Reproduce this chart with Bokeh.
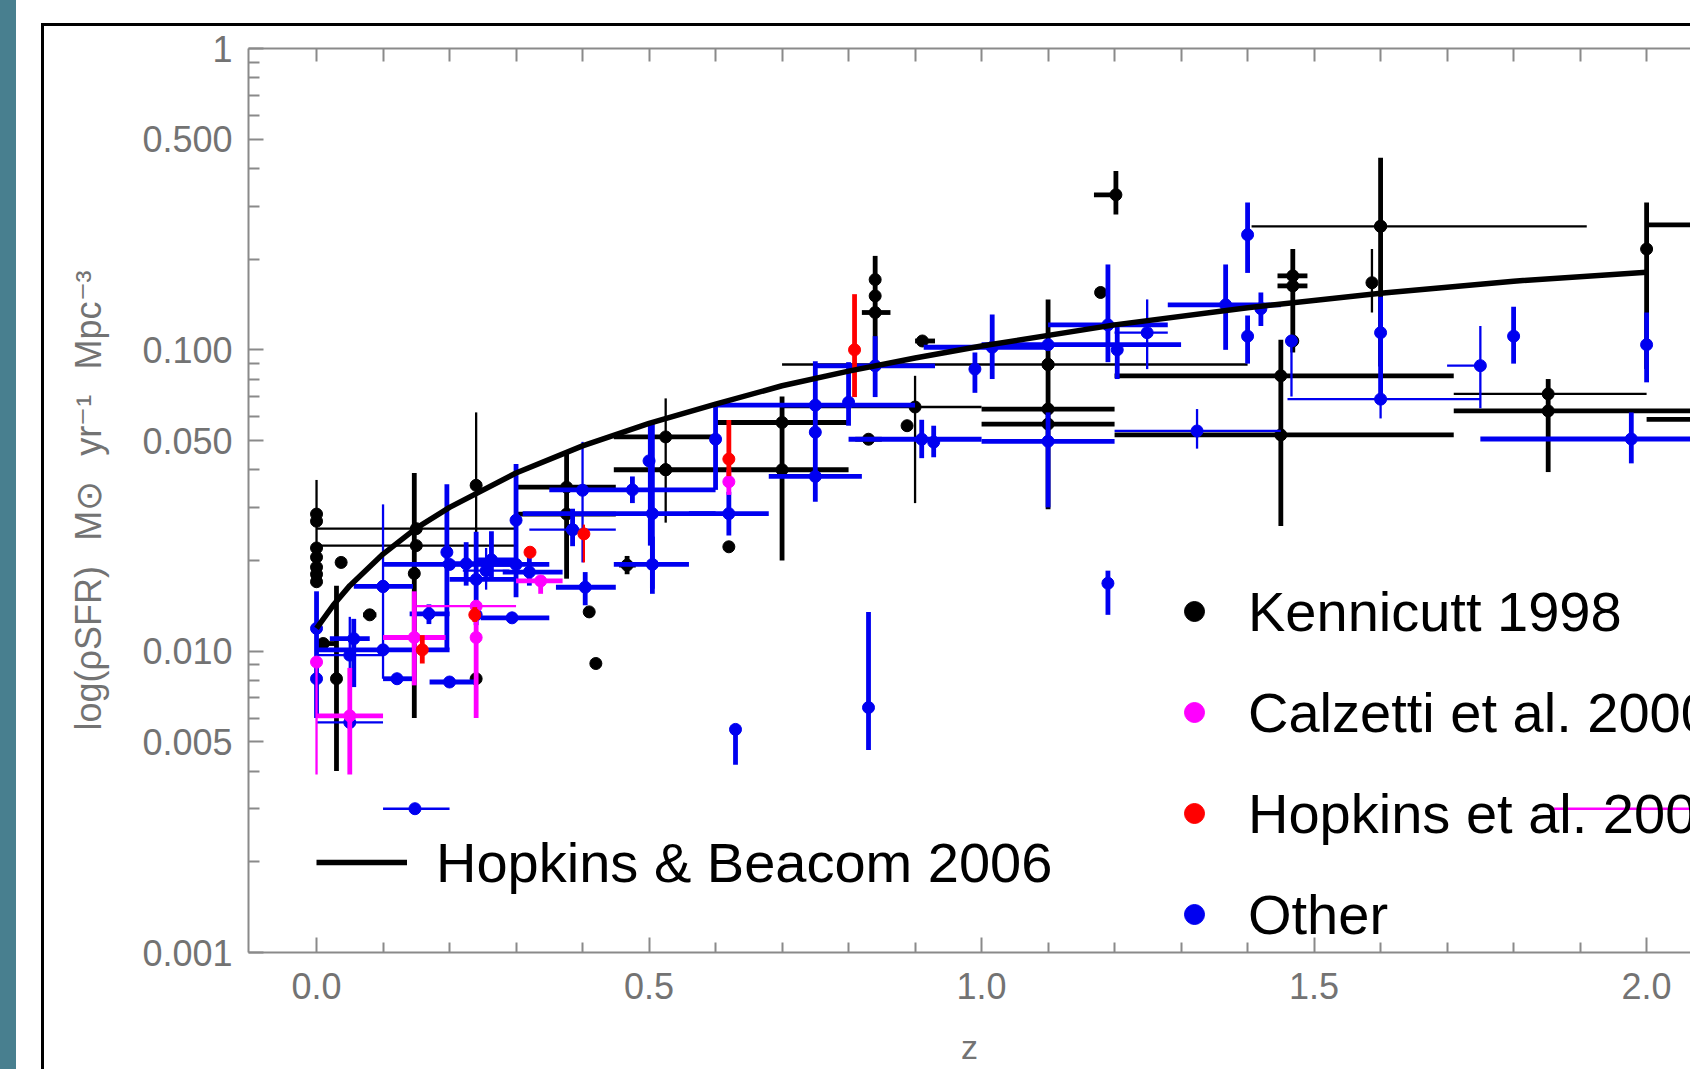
from bokeh.plotting import figure
from bokeh.models import (FixedTicker, LinearAxis, NumeralTickFormatter, Legend,
                          LegendItem, ColumnDataSource, Div, Range1d)
from bokeh.layouts import row, column
from bokeh.embed import file_html
from bokeh.resources import INLINE

N = None

# ---------------- data ----------------
# Hopkins & Beacom 2006 fit
HB_Z = [0.0, 0.025, 0.05, 0.1, 0.15, 0.2, 0.3, 0.4, 0.5, 0.6, 0.7, 0.8, 0.9, 1.0,
        1.2, 1.4, 1.6, 1.8, 2.0]
HB_SFR = [0.0119, 0.0142, 0.0165, 0.021, 0.0256, 0.030, 0.039, 0.048, 0.057, 0.066,
          0.076, 0.085, 0.094, 0.103, 0.121, 0.138, 0.154, 0.169, 0.181]

# Kennicutt 1998 (black)
KEN_Z = [0.0, 0.0, 0.0, 0.0, 0.0, 0.0, 0.0, 0.037, 0.03, 0.01, 0.08, 0.15, 0.15, 0.147,
         0.24, 0.24, 0.376, 0.376, 0.41, 0.42, 0.467, 0.525, 0.525, 0.525, 0.62, 0.70,
         0.70, 0.84, 0.84, 0.84, 0.83, 0.911, 0.888, 0.9, 1.1, 1.1, 1.1, 1.1, 1.179,
         1.202, 1.45, 1.45, 1.468, 1.468, 1.468, 1.587, 1.60, 1.60, 1.852, 1.852,
         2.0, 2.3, 2.3]
KEN_SFR = [0.0285, 0.027, 0.022, 0.0205, 0.019, 0.018, 0.017, 0.0197, 0.0081, 0.0106,
           0.0132, 0.0255, 0.0224, 0.0181, 0.0355, 0.0081, 0.035, 0.0285, 0.0135, 0.0091,
           0.0193, 0.0514, 0.040, 0.040, 0.0222, 0.0574, 0.040, 0.171, 0.151, 0.133,
           0.0505, 0.107, 0.056, 0.0646, 0.0894, 0.0894, 0.0636, 0.0567, 0.155, 0.327,
           0.082, 0.0522, 0.176, 0.163, 0.107, 0.167, 0.257, 0.257, 0.0714, 0.0627,
           0.216, 0.26, 0.0588]
KEN_ZLO = [N, N, N, N, N, N, N, N, N, 0.0, 0.07, 0.0, 0.0, N, N, N, 0.3, 0.3, N, N,
           0.455, 0.447, 0.447, N, N, 0.6, 0.6, N, N, 0.82, 0.81, 0.9, N, 0.7, 0.7, N,
           1.0, 1.0, N, 1.169, 1.2, 1.2, 1.445, 1.445, N, N, 1.406, N, 1.71, 1.71, N,
           2.0, 2.0]
KEN_ZHI = [N, N, N, N, N, N, N, N, N, 0.03, 0.09, 0.3, 0.3, N, N, N, 0.45, 0.45, N, N,
           0.48, 0.6, 0.6, N, N, 0.8, 0.8, N, N, 0.863, 0.85, 0.93, N, 1.0, 1.4, N,
           1.2, 1.2, N, 1.202, 1.71, 1.71, 1.49, 1.49, N, N, 1.91, N, 2.0, 2.1, N,
           2.6, 2.6]
KEN_SFRLO = [0.0165, N, N, N, N, N, N, N, 0.004, N, N, N, N, 0.006, 0.0104, N, 0.0174,
             N, N, N, 0.018, N, N, 0.0267, N, N, 0.020, N, N, 0.088, N, N, N, 0.031, N,
             0.0296, N, N, N, 0.281, 0.026, N, 0.098, N, N, 0.133, N, 0.088, N, 0.0393,
             0.0863, N, N]
KEN_SFRHI = [0.037, N, N, N, N, N, N, N, 0.0165, N, N, N, N, 0.039, 0.062, N, 0.046,
             N, N, N, 0.0207, N, N, 0.069, N, N, 0.070, N, N, 0.205, N, N, N, 0.082, N,
             0.147, N, N, N, 0.392, 0.108, N, 0.216, N, N, 0.216, N, 0.434, N, 0.080,
             0.308, N, N]
KEN_BAR = ["thin", N, N, N, N, N, N, N, "thick", "thick", "thick", "thin", "thin",
           "thick", "thin", N, "thick", "thick", N, N, "thick", "thick", "thick", "thin",
           N, "thick", "thick", N, N, "thick", "thick", "thick", N, "thin", "thin",
           "thick", "thick", "thick", N, "thick", "thick", "thick", "thick", "thick", N,
           "thin", "thin", "thick", "thin", "thick", "thick", "thick", "thick"]

# Calzetti et al. 2000 (magenta)
CAL_Z = [0.0, 0.05, 0.147, 0.24, 0.24, 0.337, 0.62, 2.2]
CAL_SFR = [0.0092, 0.0061, 0.0111, 0.0141, 0.0111, 0.0171, 0.0365, 0.0030]
CAL_ZLO = [N, 0.0, 0.1, 0.15, N, 0.3, N, 1.86]
CAL_ZHI = [N, 0.1, 0.194, 0.3, N, 0.37, N, 2.5]
CAL_SFRLO = [0.0039, 0.0039, 0.0077, N, 0.006, 0.0155, 0.033, N]
CAL_SFRHI = [0.0092, 0.0088, 0.0158, N, 0.0145, 0.0175, 0.040, N]
CAL_BAR = ["thin", "thick", "thick", "thin", "thick", "thick", "thick", "thin"]

# Hopkins et al. (red)
HOP_Z = [0.159, 0.238, 0.321, 0.402, 0.62, 0.809]
HOP_SFR = [0.0101, 0.0132, 0.0213, 0.0245, 0.0434, 0.100]
HOP_ZLO = [N, N, N, N, N, N]
HOP_ZHI = [N, N, N, N, N, N]
HOP_SFRLO = [0.0091, 0.0125, N, 0.0197, 0.0381, 0.0697]
HOP_SFRHI = [0.0113, 0.014, N, 0.0263, 0.0585, 0.153]
HOP_BAR = ["thick", "thick", N, "thin", "thick", "thick"]

# Other (blue)
OTH_Z = [0.0, 0.0, 0.1, 0.1, 0.1, 0.056, 0.05, 0.05, 0.196, 0.2, 0.169, 0.121, 0.2,
         0.148, 0.225, 0.24, 0.255, 0.263, 0.24, 0.3, 0.294, 0.32, 0.3, 0.385, 0.385,
         0.404, 0.4, 0.475, 0.5, 0.505, 0.505, 0.6, 0.62, 0.75, 0.75, 0.75, 0.8, 0.84,
         0.63, 0.83, 0.91, 0.928, 1.1, 1.016, 1.1, 0.99, 1.19, 1.204, 1.249, 1.367,
         1.40, 1.40, 1.42, 1.324, 1.19, 1.466, 1.60, 1.60, 1.75, 1.8, 1.977, 2.0]
OTH_SFR = [0.0119, 0.0081, 0.0101, 0.0164, 0.0164, 0.011, 0.0097, 0.0058, 0.0213,
           0.0194, 0.0133, 0.0081, 0.0079, 0.0030, 0.0195, 0.0173, 0.0185, 0.0201,
           0.0132, 0.0272, 0.0129, 0.0183, 0.0194, 0.0253, 0.0253, 0.0163, 0.0342,
           0.0343, 0.0428, 0.0286, 0.0194, 0.0505, 0.0286, 0.0655, 0.0533, 0.038, 0.067,
           0.0885, 0.0055, 0.0065, 0.0505, 0.0494, 0.0497, 0.102, 0.104, 0.0863, 0.121,
           0.100, 0.114, 0.141, 0.241, 0.111, 0.137, 0.0538, 0.0168, 0.107, 0.0686,
           0.114, 0.0886, 0.111, 0.0506, 0.104]
OTH_ZLO = [N, N, 0.0, 0.056, N, 0.02, 0.0, 0.0, N, 0.1, 0.14, 0.1, 0.17, 0.1, 0.19,
           0.2, 0.22, 0.24, N, N, 0.247, 0.28, 0.247, 0.32, N, 0.36, N, 0.35, N, 0.31,
           0.447, N, 0.56, 0.6, N, 0.68, N, 0.75, N, N, 0.8, N, 1.0, 0.913, 1.0, N, 1.1,
           N, 1.2, 1.28, N, N, N, 1.2, N, N, 1.46, N, 1.7, N, 1.75, N]
OTH_ZHI = [N, N, 0.2, 0.145, N, 0.08, 0.1, 0.1, N, 0.3, 0.2, 0.145, 0.24, 0.2, 0.26,
           0.3, 0.29, 0.3, N, N, 0.35, 0.37, 0.35, 0.45, N, 0.45, N, 0.6, N, 0.6, 0.56,
           N, 0.68, 0.9, N, 0.82, N, 0.93, N, N, 1.0, N, 1.2, 1.1, 1.3, N, 1.28, N,
           1.28, 1.45, N, N, N, 1.45, N, N, 1.75, N, 1.75, N, 2.25, N]
OTH_SFRLO = [0.0060, N, N, N, 0.0081, 0.0076, 0.0058, N, 0.0101, N, 0.0123, N, N, N,
             0.0165, 0.0122, 0.016, 0.0174, N, 0.0151, N, 0.0165, N, N, 0.0223, 0.0142,
             0.0197, 0.031, 0.0224, 0.0161, 0.0155, 0.0343, 0.0242, 0.0313, N, N, 0.056,
             0.0697, 0.0042, 0.0047, 0.0437, 0.044, 0.030, 0.080, N, 0.072, 0.091, 0.08,
             0.0863, 0.100, 0.180, 0.090, 0.120, 0.047, 0.0132, 0.070, 0.0592, 0.0686,
             0.064, 0.090, 0.042, 0.078]
OTH_SFRHI = [0.0158, N, N, N, 0.0307, 0.0128, 0.013, N, 0.0358, N, 0.0143, N, N, N,
             0.023, 0.0249, 0.022, 0.025, N, 0.0418, N, 0.0205, N, N, 0.0297, 0.0183,
             0.0495, 0.038, 0.056, 0.0575, 0.024, 0.0667, 0.0338, 0.0917, N, N, 0.091,
             0.111, 0.0055, 0.0135, 0.0586, 0.056, 0.062, 0.131, N, 0.098, 0.192, 0.12,
             0.147, 0.192, 0.308, 0.130, 0.155, 0.0636, 0.0185, 0.112, 0.080, 0.150,
             0.12, 0.139, 0.062, 0.133]
OTH_BAR = ["thick", N, "thick", "thick", "thin", "thick", "thin", "thin", "thick",
           "thick", "thick", "thick", "thick", "thin", "thick", "thick", "thin", "thick",
           N, "thick", "thick", "thick", "thick", "thin", "thick", "thick", "thin",
           "thick", "thin", "thick", "thick", "thick", "thick", "thick", N, "thick",
           "thick", "thick", "thick", "thick", "thick", "thick", "thick", "thick",
           "thick", "thick", "thick", "thick", "thin", "thick", "thick", "thick",
           "thick", "thin", "thick", "thin", "thin", "thick", "thin", "thick", "thick",
           "thick"]

SERIES = ["Kennicutt 1998", "Calzetti et al. 2000", "Hopkins et al. 2001", "Other"]

X_TICKS = [0.0, 0.5, 1.0, 1.5, 2.0]
X_MINOR = [0.1, 0.2, 0.3, 0.4, 0.6, 0.7, 0.8, 0.9, 1.1, 1.2, 1.3, 1.4, 1.6, 1.7, 1.8, 1.9]
Y_TICKS = [0.001, 0.005, 0.01, 0.05, 0.1, 0.5, 1.0]
Y_MINOR = [0.002, 0.003, 0.004, 0.006, 0.007, 0.008, 0.009, 0.02, 0.03, 0.04, 0.06,
           0.07, 0.08, 0.09, 0.2, 0.3, 0.4, 0.6, 0.7, 0.8, 0.9]

# ---------------- styling ----------------
AX_COL = "#8a8a8a"
TICK_TXT = "#737373"
FONT = "Liberation Sans"
W_THICK, W_THIN = 4.8, 2.3

p = figure(width=1646, height=1043, output_backend="svg", toolbar_location=None,
           x_range=Range1d(-0.1023, 2.066), y_range=Range1d(0.001, 1.0),
           y_axis_type="log", min_border_left=204, min_border_right=0,
           min_border_top=22, min_border_bottom=117,
           background_fill_color="white", border_fill_color="white",
           outline_line_color=None)
p.grid.visible = False


def style_axis(ax, maj_in, min_in):
    ax.axis_line_color = AX_COL
    ax.axis_line_width = 2
    ax.major_tick_line_color = AX_COL
    ax.major_tick_line_width = 2
    ax.minor_tick_line_color = AX_COL
    ax.minor_tick_line_width = 2
    ax.major_tick_in = maj_in
    ax.major_tick_out = 0
    ax.minor_tick_in = min_in
    ax.minor_tick_out = 0
    ax.major_label_text_font = FONT
    ax.major_label_text_font_size = "36px"
    ax.major_label_text_color = TICK_TXT
    ax.axis_label_text_font = FONT
    ax.axis_label_text_font_style = "normal"
    ax.axis_label_text_color = TICK_TXT


xt = FixedTicker(ticks=X_TICKS, minor_ticks=X_MINOR)
xa = p.xaxis[0]
xa.ticker = xt
xa.formatter = NumeralTickFormatter(format="0.0")
style_axis(xa, 15, 10)
xa.major_label_standoff = 20
xa.axis_label = "z"
xa.axis_label_text_font_size = "34px"
xa.axis_label_standoff = 26

ya = p.yaxis[0]
ya.ticker = FixedTicker(ticks=Y_TICKS, minor_ticks=Y_MINOR)
ya.formatter = NumeralTickFormatter(format="0.000")
ya.major_label_overrides = {1.0: "1"}
style_axis(ya, 15, 11)
ya.major_label_standoff = 16
ya.axis_label = ("log(\u03c1SFR)\u2002\u2009M\u2299\u2002\u2009yr\u207b\u00b9"
                 "\u2002\u2009Mpc\u207b\u00b3")
ya.axis_label_text_font_size = "36px"
ya.axis_label_standoff = 30

# top frame edge: ticks only (no labels)
top = LinearAxis(ticker=FixedTicker(ticks=[], minor_ticks=X_TICKS + X_MINOR))
style_axis(top, 13, 13)
top.major_label_standoff = 0
p.add_layout(top, "above")


def bars(zs, vs, zlo, zhi, vlo, vhi, wt, which):
    d = dict(x0=[], x1=[], y0=[], y1=[])
    for i in range(len(zs)):
        if wt[i] != which:
            continue
        if zlo[i] is not None:
            d["x0"].append(zlo[i]); d["x1"].append(zhi[i])
            d["y0"].append(vs[i]); d["y1"].append(vs[i])
        if vlo[i] is not None:
            d["x0"].append(zs[i]); d["x1"].append(zs[i])
            d["y0"].append(vlo[i]); d["y1"].append(vhi[i])
    return ColumnDataSource(d)


groups = [
    (KEN_Z, KEN_SFR, KEN_ZLO, KEN_ZHI, KEN_SFRLO, KEN_SFRHI, KEN_BAR, "#000000"),
    (OTH_Z, OTH_SFR, OTH_ZLO, OTH_ZHI, OTH_SFRLO, OTH_SFRHI, OTH_BAR, "#0000f0"),
    (CAL_Z, CAL_SFR, CAL_ZLO, CAL_ZHI, CAL_SFRLO, CAL_SFRHI, CAL_BAR, "#ff00ff"),
    (HOP_Z, HOP_SFR, HOP_ZLO, HOP_ZHI, HOP_SFRLO, HOP_SFRHI, HOP_BAR, "#ff0000"),
]
dots = []
for zs, vs, zlo, zhi, vlo, vhi, wt, col in groups:
    p.segment("x0", "y0", "x1", "y1", source=bars(zs, vs, zlo, zhi, vlo, vhi, wt, "thin"),
              line_color=col, line_width=W_THIN)
    p.segment("x0", "y0", "x1", "y1", source=bars(zs, vs, zlo, zhi, vlo, vhi, wt, "thick"),
              line_color=col, line_width=W_THICK)
    dots.append(p.scatter(zs, vs, size=12, fill_color=col, line_color=col))

curve = p.line(HB_Z, HB_SFR, line_color="black", line_width=5.5)

leg1 = Legend(items=[LegendItem(label="Hopkins & Beacom 2006", renderers=[curve])],
              location=(68, 55), glyph_width=91, glyph_height=70, label_height=70,
              label_standoff=29, padding=0, margin=0, spacing=0,
              border_line_color=None, background_fill_alpha=0,
              label_text_font=FONT, label_text_font_size="56px",
              label_text_color="black")
p.add_layout(leg1)

order = [dots[0], dots[2], dots[3], dots[1]]
leg2 = Legend(items=[LegendItem(label=SERIES[i], renderers=[order[i]]) for i in range(4)],
              location=(921, 3), glyph_width=50, glyph_height=70, label_height=70,
              label_standoff=29, padding=0, margin=0, spacing=31,
              border_line_color=None, background_fill_alpha=0,
              label_text_font=FONT, label_text_font_size="56px",
              label_text_color="black")
p.add_layout(leg2)

# ---------------- page frame (teal strip + black frame corner) ----------------
teal = Div(text="", width=16, height=1069, margin=0,
           styles={"background-color": "#487f8f"})
gap = Div(text="", width=25, height=1069, margin=0)
top_gap = Div(text="", width=1649, height=23, margin=0)
frame_top = Div(text="", width=1649, height=3, margin=0,
                styles={"background-color": "black"})
frame_left = Div(text="", width=3, height=1043, margin=0,
                 styles={"background-color": "black"})

layout = row(teal, gap, column(top_gap, frame_top, row(frame_left, p)))

open("out.html", "w").write(file_html(layout, INLINE))
